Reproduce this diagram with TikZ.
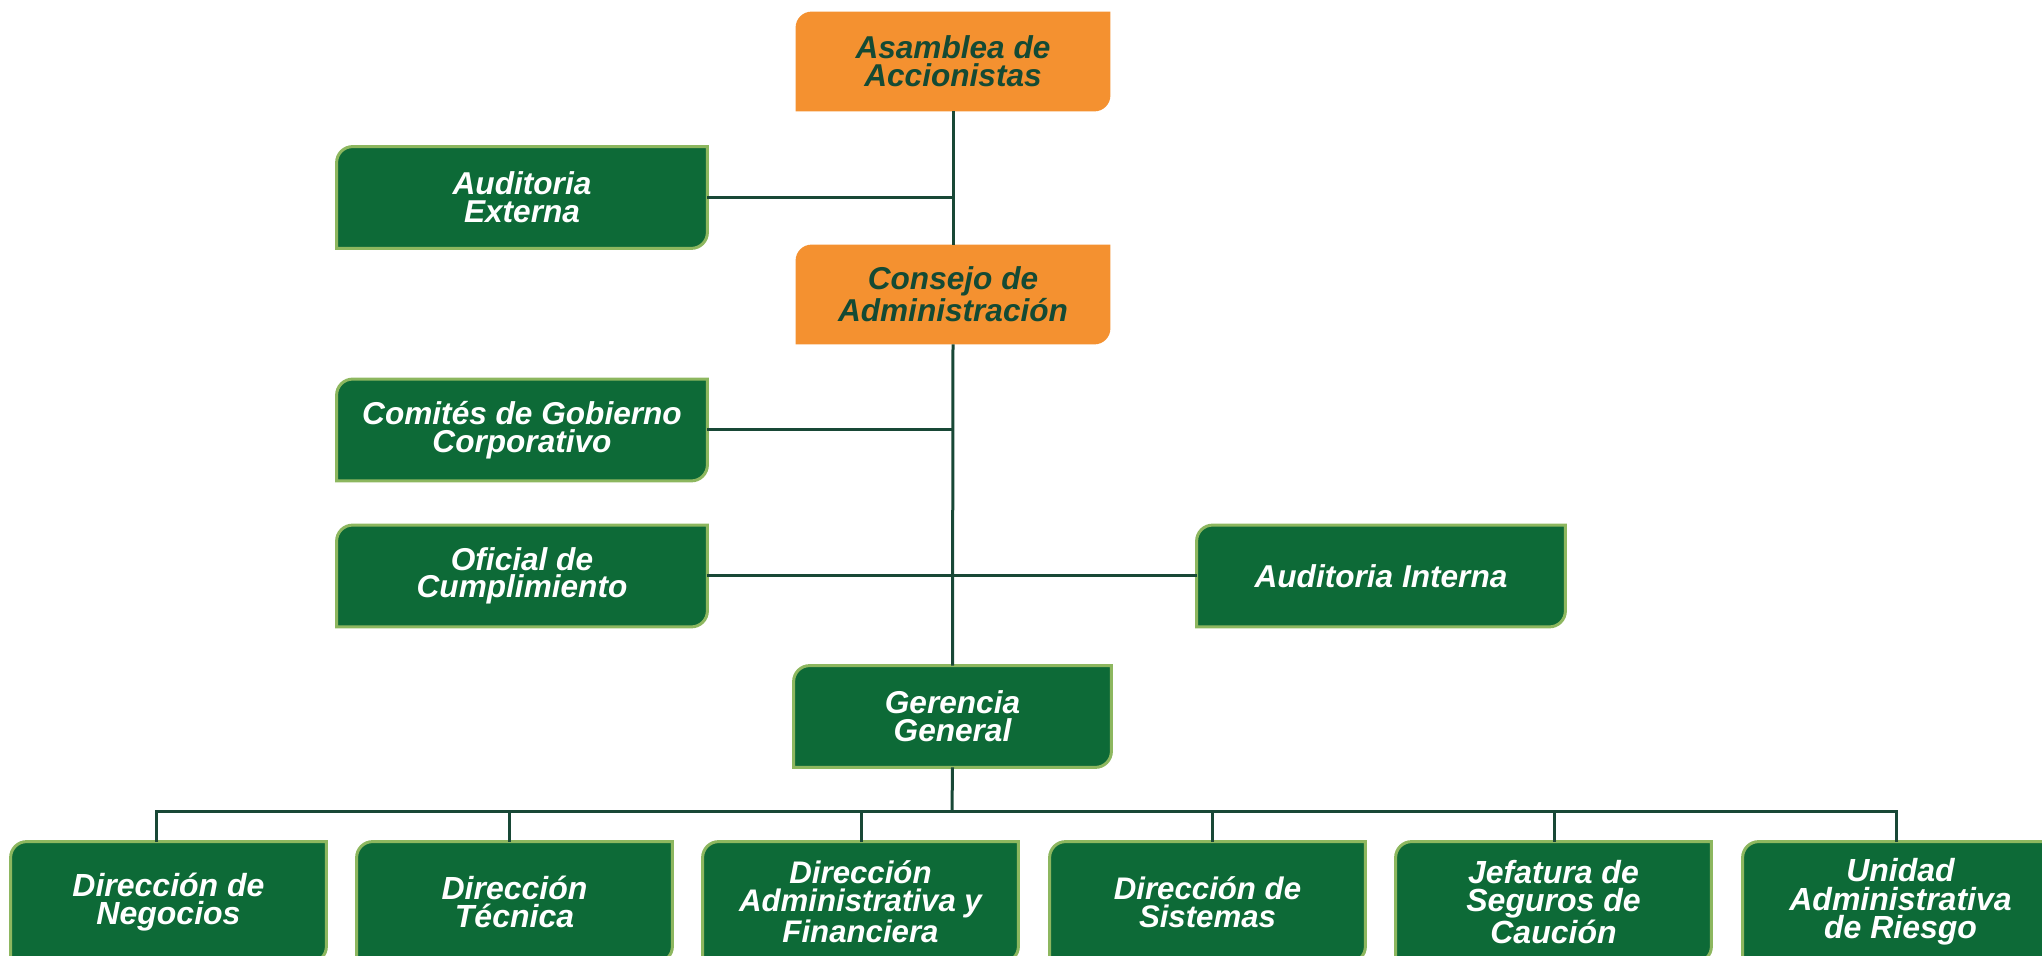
\documentclass[tikz,border=0pt]{standalone}
\usepackage{fontspec}
\setmainfont{Liberation Sans}
\usetikzlibrary{calc}
\definecolor{gfill}{RGB}{13,106,55}
\definecolor{gline}{RGB}{141,183,95}
\definecolor{ofill}{RGB}{244,145,48}
\definecolor{otext}{RGB}{20,74,52}
\definecolor{conn}{RGB}{24,72,54}
\pgfdeclarelayer{bg}
\pgfsetlayers{bg,main}
\tikzset{
  x=0.5pt,y=0.5pt,
  boxtxt/.style={rectangle, inner sep=0pt, align=center,
    font=\bfseries\itshape\fontsize{15.8pt}{13.8pt}\selectfont},
  obox/.style={boxtxt, text=otext, minimum width=157pt, minimum height=49.5pt},
  gbox/.style={boxtxt, text=white},
  lbox/.style={gbox, minimum width=185pt, minimum height=50.5pt},
  bbox/.style={gbox, minimum width=157.5pt, minimum height=60pt,
    font=\bfseries\itshape\fontsize{16pt}{14.2pt}\selectfont},
  conn/.style={draw=conn, line width=1.5pt},
  gshape/.style={fill=gfill, draw=gline, line width=1.5pt},
  oshape/.style={fill=ofill},
}
\begin{document}
\begin{tikzpicture}
\useasboundingbox (0,0) rectangle (2042,-956);
% top column
\node[obox] (ae) at (953,-61.5) {Asamblea de\\Accionistas};
\node[obox] (ca) at (953,-294.5) {Consejo de\\Administración};
\node[lbox] (aex) at (522,-197.5) {Auditoria\\Externa};
\node[lbox] (cg) at (522,-430) {Comités de Gobierno\\Corporativo};
\node[lbox] (oc) at (522,-576) {Oficial de\\Cumplimiento};
\node[lbox, minimum width=184pt] (ai) at (1381,-576) {Auditoria Interna};
\node[gbox, minimum width=158.5pt, minimum height=50.5pt] (gg) at (952.5,-716.5) {Gerencia\\General};
% bottom row
\node[bbox] (b1) at (168.5,-902) {Dirección de\\Negocios};
\node[bbox] (b2) at (514.5,-902) {Dirección\\Técnica};
\node[bbox, font=\bfseries\itshape\fontsize{15.6pt}{13.8pt}\selectfont] (b3) at (860.5,-902) {Dirección\\Administrativa y\\Financiera};
\node[bbox, font=\bfseries\itshape\fontsize{15.6pt}{14pt}\selectfont] (b4) at (1207.5,-902) {Dirección de\\Sistemas};
\node[bbox] (b5) at (1553.5,-902) {Jefatura de\\Seguros de\\Caución};
\node[bbox] (b6) at (1900.5,-902) {Unidad\\Administrativa\\de Riesgo};
% box shapes
\begin{pgfonlayer}{bg}
\begin{scope}
\clip (0,0) rectangle (2042,-956);
\foreach \n in {ae,ca}{
  \path[oshape] (\n.south west) -- ([yshift=-8pt]\n.north west)
    arc[start angle=180,end angle=90,radius=8pt] -- (\n.north east)
    -- ([yshift=8pt]\n.south east) arc[start angle=0,end angle=-90,radius=8pt] -- cycle;
}
\foreach \n in {aex,cg,oc,ai,gg,b1,b2,b3,b4,b5,b6}{
  \path[gshape] (\n.south west) -- ([yshift=-8pt]\n.north west)
    arc[start angle=180,end angle=90,radius=8pt] -- (\n.north east)
    -- ([yshift=8pt]\n.south east) arc[start angle=0,end angle=-90,radius=8pt] -- cycle;
}
% connectors
\draw[conn] (ae.south) -- (ca.north);
\draw[conn] (ca.south) -- (gg.north);
\draw[conn] (aex.east) -- (aex.east -| ae.south);
\draw[conn] (cg.east) -- (cg.east -| ca.south);
\draw[conn] (oc.east) -- (ai.west);
\coordinate (bus) at (952,-812);
\coordinate (d1) at (156,-812);
\coordinate (d2) at (509,-812);
\coordinate (d3) at (861,-812);
\coordinate (d4) at (1212,-812);
\coordinate (d5) at (1554,-812);
\coordinate (d6) at (1896,-812);
\draw[conn] (gg.south) -- (bus);
\draw[conn] (d1 |- b1.north) -- (d1) -- (d6) -- (d6 |- b6.north);
\foreach \i in {2,3,4,5}{
  \draw[conn] (d\i) -- (d\i |- b\i.north);
}
\end{scope}
\end{pgfonlayer}
\end{tikzpicture}
\end{document}
